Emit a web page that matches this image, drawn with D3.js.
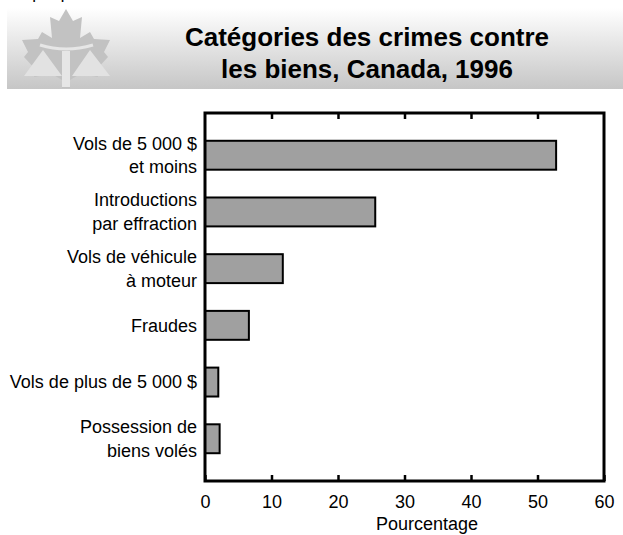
<!DOCTYPE html>
<html>
<head>
<meta charset="utf-8">
<script src="https://cdn.jsdelivr.net/npm/d3@7"></script>
<style>
  body { margin: 0; background: #fff; }
  svg { display: block; font-family: "Liberation Sans", Arial, sans-serif; }
</style>
</head>
<body>
<svg width="623" height="535"></svg>
<script>
const categories = [
    ["Vols de 5 000 $", "et moins"],
    ["Introductions", "par effraction"],
    ["Vols de véhicule", "à moteur"],
    ["Fraudes"],
    ["Vols de plus de 5 000 $"],
    ["Possession de", "biens volés"]
]
const values = [52.8, 25.6, 11.7, 6.6, 2.0, 2.2]
const xTicks = [0, 10, 20, 30, 40, 50, 60]
const titleLines = ["Catégories des crimes contre", "les biens, Canada, 1996"]
const xLabel = "Pourcentage"

const svg = d3.select("svg")

// bandeau en dégradé
const defs = svg.append("defs")
const grad = defs.append("linearGradient")
    .attr("id", "band").attr("x1", 0).attr("y1", 0).attr("x2", 0).attr("y2", 1)
grad.append("stop").attr("offset", "0%").attr("stop-color", "#ffffff")
grad.append("stop").attr("offset", "100%").attr("stop-color", "#c6c6c6")

svg.append("rect")
    .attr("x", 7).attr("y", 8).attr("width", 616).attr("height", 81)
    .attr("fill", "url(#band)")

// texte coupé en haut
svg.append("text")
    .attr("x", 4).attr("y", -1)
    .attr("font-size", 17)
    .attr("fill", "#000")
    .text("Graphique 2")

// logo (feuille d'érable + balance)
const logo = svg.append("g")
const leaf = [[66,9],[73,21],[82,17],[80,38],[90,32],[94,39],[110,40],[104,52],[108,57],[96,70],[98,77],[80,74],[70,80],[70,88],[62,88],[62,80],[52,74],[34,77],[36,70],[24,57],[28,52],[22,40],[38,39],[42,32],[52,38],[50,17],[59,21]]
logo.append("path")
    .attr("d", d3.line()(leaf) + "Z")
    .attr("fill", "#c2c2c2")
logo.append("path")
    .attr("d", "M43,50 L24,76 L62,76 Z M90,50 L72,76 L110,76 Z")
    .attr("fill", "#e2e2e2")
logo.append("rect")
    .attr("x", 62).attr("y", 51).attr("width", 8).attr("height", 36)
    .attr("fill", "#e6e6e6")
logo.append("path")
    .attr("d", "M40,45 Q66,53 93,45")
    .attr("fill", "none").attr("stroke", "#e6e6e6").attr("stroke-width", 3)

// titre
svg.append("text")
    .attr("text-anchor", "middle")
    .attr("font-size", 26)
    .attr("font-weight", "bold")
    .selectAll("tspan")
    .data(titleLines)
    .enter()
    .append("tspan")
    .attr("x", 367)
    .attr("y", (d, i) => 46 + i * 32)
    .text(d => d)

// graphique
const x = d3.scaleLinear().domain([0, 60]).range([205, 604])
const y = d3.scaleBand().domain(d3.range(categories.length)).range([113, 481]).padding(0.49)

svg.append("g")
    .selectAll("rect")
    .data(values)
    .enter()
    .append("rect")
    .attr("x", x(0))
    .attr("y", (d, i) => y(i))
    .attr("width", d => x(d) - x(0))
    .attr("height", y.bandwidth())
    .attr("fill", "#a0a0a0")
    .attr("stroke", "#000")
    .attr("stroke-width", 2)

// ticks en haut et en bas, vers l'intérieur
const bottomAxis = svg.append("g")
    .attr("transform", "translate(0,481)")
    .call(d3.axisBottom(x).tickValues(xTicks).tickSizeInner(-6).tickSizeOuter(0).tickPadding(14))
bottomAxis.select(".domain").remove()
bottomAxis.selectAll("line").attr("stroke-width", 2.5)
bottomAxis.selectAll("text")
    .attr("font-size", 18)
    .attr("font-family", "Liberation Sans, Arial, sans-serif")
    .attr("fill", "#000")

const topAxis = svg.append("g")
    .attr("transform", "translate(0,113)")
    .call(d3.axisTop(x).tickValues(xTicks.slice(1, -1)).tickSizeInner(-6).tickSizeOuter(0).tickFormat(""))
topAxis.select(".domain").remove()
topAxis.selectAll("line").attr("stroke-width", 2.5)

// cadre
svg.append("rect")
    .attr("x", 205).attr("y", 113).attr("width", 399).attr("height", 368)
    .attr("fill", "none").attr("stroke", "#000").attr("stroke-width", 3)

// étiquettes des catégories
svg.append("g")
    .selectAll("text")
    .data(categories)
    .enter()
    .append("text")
    .attr("text-anchor", "end")
    .attr("font-size", 18)
    .each(function (d, i) {
        const cy = y(i) + y.bandwidth() / 2
        const start = cy - (d.length - 1) * 23.5 / 2 + 6.3
        d3.select(this).selectAll("tspan")
            .data(d)
            .enter()
            .append("tspan")
            .attr("x", 197)
            .attr("y", (t, j) => start + j * 23.5)
            .text(t => t)
    })

svg.append("text")
    .attr("x", 427).attr("y", 530)
    .attr("text-anchor", "middle")
    .attr("font-size", 18)
    .text(xLabel)
</script>
</body>
</html>
